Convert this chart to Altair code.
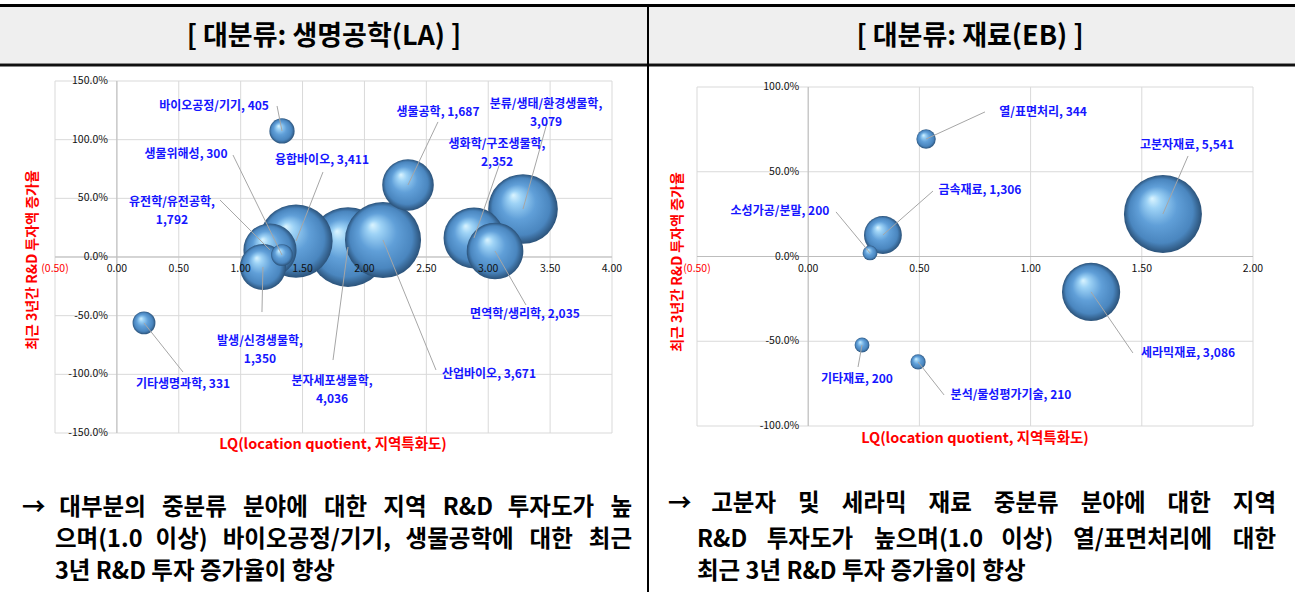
import math
import altair as alt
import pandas as pd

# ---------------- text ----------------
header_la = "[ 대분류: 생명공학(LA) ]"
header_eb = "[ 대분류: 재료(EB) ]"
x_title = "LQ(location quotient, 지역특화도)"
y_title = "최근 3년간 R&D 투자액 증가율"

# ---------------- 생명공학(LA) ----------------
la_names = ["바이오공정/기기", "생물위해성", "유전학/유전공학", "융합바이오", "생물공학",
            "분류/생태/환경생물학", "생화학/구조생물학", "면역학/생리학", "산업바이오",
            "분자세포생물학", "발생/신경생물학", "기타생명과학"]
la_lq = [1.334, 1.334, 1.237, 1.447, 2.352, 3.281, 2.885, 3.055, 2.150, 1.867, 1.180, 0.219]
la_growth = [1.074, 0.017, 0.060, 0.136, 0.614, 0.409, 0.162, 0.051, 0.145, 0.085, -0.085, -0.562]
la_amount = [405, 300, 1792, 3411, 1687, 3079, 2352, 2035, 3671, 4036, 1350, 331]
# label placement (data units) and leader-line start points
la_label_lq = [0.785, 0.558, 0.445, 1.657, 2.594, 3.467, 3.071, 3.297, 3.006, 1.738, 1.156, 0.534]
la_label_growth = [1.287, 0.878, 0.473, 0.827, 1.236, 1.304, 0.967, -0.486, -0.997, -1.061, -0.712, -1.082]
la_lead_lq = [1.294, 0.938, 0.833, 1.665, 2.594, 3.475, 3.095, 3.305, 2.578, 1.746, 1.172, 0.534]
la_lead_growth = [1.287, 0.869, 0.486, 0.724, 1.151, 1.142, 0.801, -0.409, -0.963, -0.878, -0.469, -0.980]
la_wrap = [False, False, True, False, False, True, True, False, False, True, True, False]
la_x_ticks = [-0.5, 0.0, 0.5, 1.0, 1.5, 2.0, 2.5, 3.0, 3.5, 4.0]
la_x_tick_labels = ["(0.50)", "0.00", "0.50", "1.00", "1.50", "2.00", "2.50", "3.00", "3.50", "4.00"]
la_y_ticks = [-1.5, -1.0, -0.5, 0.0, 0.5, 1.0, 1.5]
la_y_tick_labels = ["-150.0%", "-100.0%", "-50.0%", "0.0%", "50.0%", "100.0%", "150.0%"]

# ---------------- 재료(EB) ----------------
eb_names = ["열/표면처리", "고분자재료", "금속재료", "소성가공/분말", "기타재료", "분석/물성평가기술", "세라믹재료"]
eb_lq = [0.530, 1.595, 0.336, 0.278, 0.242, 0.494, 1.272]
eb_growth = [0.693, 0.251, 0.127, 0.021, -0.522, -0.622, -0.209]
eb_amount = [344, 5541, 1306, 200, 200, 210, 3086]
eb_label_lq = [1.056, 1.703, 0.772, -0.127, 0.219, 0.912, 1.708]
eb_label_growth = [0.853, 0.658, 0.392, 0.268, -0.723, -0.817, -0.569]
eb_lead_lq = [0.795, 1.708, 0.561, 0.125, 0.224, 0.611, 1.460]
eb_lead_growth = [0.853, 0.593, 0.386, 0.263, -0.652, -0.817, -0.569]
eb_wrap = [False] * 7
eb_x_ticks = [-0.5, 0.0, 0.5, 1.0, 1.5, 2.0]
eb_x_tick_labels = ["(0.50)", "0.00", "0.50", "1.00", "1.50", "2.00"]
eb_y_ticks = [-1.0, -0.5, 0.0, 0.5, 1.0]
eb_y_tick_labels = ["-100.0%", "-50.0%", "0.0%", "50.0%", "100.0%"]

# ---------------- footer ----------------
foot_la = ["→ 대부분의 중분류 분야에 대한 지역 R&D 투자도가 높",
           "으며(1.0 이상) 바이오공정/기기, 생물공학에 대한 최근",
           "3년 R&D 투자 증가율이 향상"]
foot_eb = ["→ 고분자 및 세라믹 재료 중분류 분야에 대한 지역",
           "R&D 투자도가 높으며(1.0 이상) 열/표면처리에 대한",
           "최근 3년 R&D 투자 증가율이 향상"]

# ---------------- styles ----------------
W, H = 1295, 592
KR = "Noto Sans CJK KR"
GRID = "#d9d9d9"
AXIS = "#bdbdbd"
BLUE = "#1616ff"
RED = "#ff0000"
SPHERE = alt.RadialGradient(
    gradient="radial", x1=0.36, y1=0.3, r1=0.0, x2=0.5, y2=0.5, r2=0.5,
    stops=[alt.GradientStop(offset=0.0, color="#dcf5ff"),
           alt.GradientStop(offset=0.18, color="#9ed3f6"),
           alt.GradientStop(offset=0.5, color="#609fd8"),
           alt.GradientStop(offset=0.82, color="#4a86bf"),
           alt.GradientStop(offset=1.0, color="#2b5279")])


def panel(names, lq, growth, amount, lab_x, lab_y, lead_x, lead_y, wrap,
          xticks, xlabels, yticks, ylabels, xdom, xrng, ydom, yrng, rmax):
    xs = alt.Scale(domain=xdom, range=xrng, nice=False, zero=False)
    ys = alt.Scale(domain=ydom, range=yrng, nice=False, zero=False)
    labels = [f"{n},\n{a:,}" if w else f"{n}, {a:,}" for n, a, w in zip(names, amount, wrap)]
    df = pd.DataFrame({"name": names, "lq": lq, "growth": growth, "amount": amount,
                       "lab_x": lab_x, "lab_y": lab_y, "lead_x": lead_x, "lead_y": lead_y,
                       "label": labels})
    xt = pd.DataFrame({"v": xticks, "label": xlabels})
    yt = pd.DataFrame({"v": yticks, "label": ylabels})
    one = pd.DataFrame({"a": [0]})

    vgrid = alt.Chart(xt).mark_rule(color=GRID, strokeWidth=1).encode(
        x=alt.X("v:Q", scale=xs, axis=None),
        y=alt.YDatum(ydom[0], scale=ys, axis=None), y2=alt.Y2Datum(ydom[1]))
    hgrid = alt.Chart(yt).mark_rule(color=GRID, strokeWidth=1).encode(
        y=alt.Y("v:Q", scale=ys, axis=None),
        x=alt.XDatum(xdom[0], scale=xs, axis=None), x2=alt.X2Datum(xdom[1]))
    vzero = alt.Chart(one).mark_rule(color=AXIS, strokeWidth=1).encode(
        x=alt.XDatum(0, scale=xs, axis=None),
        y=alt.YDatum(ydom[0], scale=ys, axis=None), y2=alt.Y2Datum(ydom[1]))
    hzero = alt.Chart(one).mark_rule(color=AXIS, strokeWidth=1).encode(
        y=alt.YDatum(0, scale=ys, axis=None),
        x=alt.XDatum(xdom[0], scale=xs, axis=None), x2=alt.X2Datum(xdom[1]))
    bubbles = alt.Chart(df).mark_circle(color=SPHERE, opacity=1).encode(
        x=alt.X("lq:Q", scale=xs, axis=None),
        y=alt.Y("growth:Q", scale=ys, axis=None),
        size=alt.Size("amount:Q", legend=None,
                      scale=alt.Scale(type="linear", zero=True, domain=[0, max(amount)],
                                      range=[0, math.pi * rmax ** 2])),
        order=alt.Order("amount:Q", sort="descending"))
    leaders = alt.Chart(df).mark_rule(color="#a6a6a6", strokeWidth=1).encode(
        x=alt.X("lead_x:Q", scale=xs, axis=None), y=alt.Y("lead_y:Q", scale=ys, axis=None),
        x2="lq:Q", y2="growth:Q")
    texts = alt.Chart(df).mark_text(font=KR, fontSize=12, fontWeight="bold", color=BLUE,
                                    lineBreak="\n", lineHeight=18, align="center",
                                    baseline="middle").encode(
        x=alt.X("lab_x:Q", scale=xs, axis=None), y=alt.Y("lab_y:Q", scale=ys, axis=None),
        text="label:N")
    xlab = alt.Chart(xt).mark_text(font=KR, fontSize=10.5, align="center", baseline="middle",
                                   dy=12).encode(
        x=alt.X("v:Q", scale=xs, axis=None), y=alt.YDatum(0, scale=ys, axis=None),
        text="label:N",
        color=alt.condition("datum.v < 0", alt.value(RED), alt.value("#111111")))
    ylab = alt.Chart(yt).mark_text(font=KR, fontSize=10.5, align="right", baseline="middle",
                                   dx=-9, color="#111111").encode(
        y=alt.Y("v:Q", scale=ys, axis=None), x=alt.XDatum(0, scale=xs, axis=None),
        text="label:N")
    return alt.layer(vgrid, hgrid, vzero, hzero, bubbles, leaders, texts, xlab, ylab)


left = panel(la_names, la_lq, la_growth, la_amount, la_label_lq, la_label_growth,
             la_lead_lq, la_lead_growth, la_wrap, la_x_ticks, la_x_tick_labels,
             la_y_ticks, la_y_tick_labels, [-0.5, 4.0], [55, 612], [-1.5, 1.5], [433, 81], 45)
right = panel(eb_names, eb_lq, eb_growth, eb_amount, eb_label_lq, eb_label_growth,
              eb_lead_lq, eb_lead_growth, eb_wrap, eb_x_ticks, eb_x_tick_labels,
              eb_y_ticks, eb_y_tick_labels, [-0.5, 2.0], [697, 1253], [-1.0, 1.0], [426, 87], 44)


# ---------------- decoration (table frame, headers, footer) ----------------
def em_width(s):
    w = 0.0
    for ch in s:
        o = ord(ch)
        if 0xAC00 <= o <= 0xD7A3:
            w += 0.92
        elif ch == "→":
            w += 0.9
        elif ch.isdigit():
            w += 0.57
        elif ch in ".,":
            w += 0.28
        elif ch in "()":
            w += 0.34
        elif ch == "/":
            w += 0.38
        elif ch == "&":
            w += 0.72
        elif ch.isupper():
            w += 0.68
        else:
            w += 0.55
    return w


FS = 23.5
rows = []


def justify(line, left_px, right_px, y):
    words = line.split(" ")
    widths = [em_width(w) * FS for w in words]
    gap = (right_px - left_px - sum(widths)) / (len(words) - 1)
    x = left_px
    for w, wd in zip(words, widths):
        rows.append({"x": x, "y": y, "t": w})
        x += wd + gap


justify(foot_la[0], 22, 632, 508)
justify(foot_la[1], 55, 632, 540)
rows.append({"x": 55, "y": 572, "t": foot_la[2]})
justify(foot_eb[0], 668, 1276, 504)
justify(foot_eb[1], 697, 1276, 540)
rows.append({"x": 697, "y": 572, "t": foot_eb[2]})
foot_df = pd.DataFrame(rows)

one = pd.DataFrame({"a": [0]})


def rect(x, x2, y, y2, color):
    return alt.Chart(one).mark_rect(color=color).encode(
        x=alt.value(x), x2=alt.value(x2), y=alt.value(y), y2=alt.value(y2))


def label(text, x, y, size, color, angle=0):
    return alt.Chart(one).mark_text(font=KR, fontSize=size, fontWeight="bold", color=color,
                                    align="center", baseline="middle", angle=angle).encode(
        x=alt.value(x), y=alt.value(y), text=alt.value(text))


footer = alt.Chart(foot_df).mark_text(font=KR, fontSize=FS, fontWeight="bold", color="#000000",
                                      align="left", baseline="middle").encode(
    x=alt.X("x:Q", scale=alt.Scale(domain=[0, W], range=[0, W]), axis=None),
    y=alt.Y("y:Q", scale=alt.Scale(domain=[0, H], range=[0, H]), axis=None),
    text="t:N")

decor = alt.layer(
    rect(0, W, 7, 63, "#efefef"),
    rect(0, W, 4, 7, "#000000"),
    rect(0, W, 63.5, 66.5, "#111111"),
    rect(647, 649, 4, H, "#000000"),
    label(header_la, 324, 37, 27, "#000000"),
    label(header_eb, 970, 37, 27, "#000000"),
    label(x_title, 333, 445, 14.5, RED),
    label(x_title, 975, 439, 14.5, RED),
    label(y_title, 33, 260, 14, RED, 270),
    label(y_title, 678, 262, 14, RED, 270),
    footer,
)

chart = alt.layer(decor, left, right).resolve_scale(
    x="independent", y="independent", size="independent"
).properties(
    width=W, height=H, padding=0, autosize=alt.AutoSizeParams(type="none"),
    background="#ffffff"
).configure_view(stroke=None)

chart.save("out.html", embed_options={"renderer": "svg", "actions": False})
